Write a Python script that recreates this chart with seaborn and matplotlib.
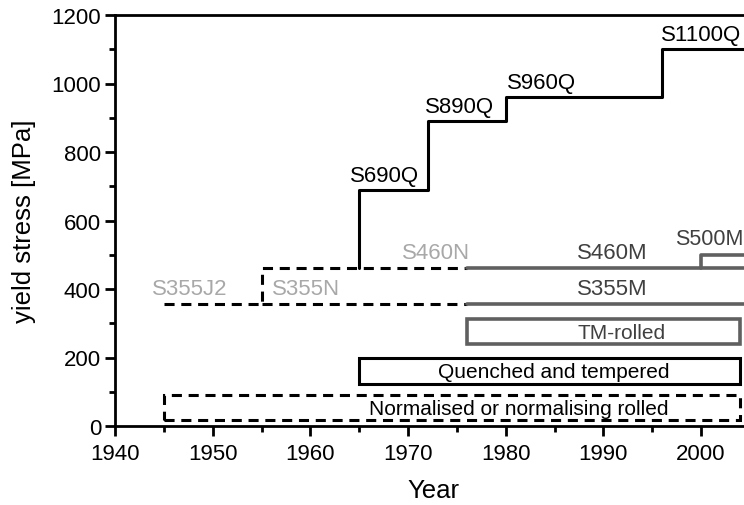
import matplotlib
matplotlib.use("Agg")
import matplotlib.pyplot as plt
from matplotlib.patches import Rectangle
from matplotlib.ticker import MultipleLocator
import seaborn as sns

sns.set_theme(style="white")
plt.rcParams['font.family'] = ['Liberation Sans', 'DejaVu Sans']

# Quenched and tempered grades (step line)
q_years = [1965, 1965, 1972, 1980, 1996, 2006]
q_stress = [460, 690, 890, 960, 1100, 1100]
q_labels = ["S690Q", "S890Q", "S960Q", "S1100Q"]
q_label_years = [1964.1, 1971.7, 1980.1, 1995.9]
q_label_stress = [690, 890, 960, 1100]

# Normalised grades (dashed)
n_years = [1945, 1955, 1955, 1976]
n_stress = [355, 355, 460, 460]
n_years2 = [1955, 1976]
n_stress2 = [355, 355]
n_labels = ["S355J2", "S355N", "S460N"]
n_label_years = [1947.7, 1959.6, 1972.9]
n_label_stress = [355, 355, 460]

# Thermomechanically rolled grades (grey)
m355_years = [1976, 2006]
m355_stress = [355, 355]
m460_years = [1976, 2006]
m460_stress = [460, 460]
m500_years = [2000, 2000, 2006]
m500_stress = [460, 500, 500]
m_labels = ["S355M", "S460M"]
m_label_years = [1990.9, 1990.9]
m_label_stress = [355, 460]

# Process ranges
processes = ["Normalised or normalising rolled", "Quenched and tempered", "TM-rolled"]
proc_start = [1945, 1965, 1976]
proc_end = [2004, 2004, 2004]
proc_low = [17, 123, 239]
proc_high = [90, 199, 312]
proc_text_years = [1981.3, 1984.9, 1991.9]

BLACK = "#000000"
GREY = "#606060"
LABEL_GREY = "#404040"
LIGHT = "#a8a8a8"
DASH = (3.3, 2.2)

fig = plt.figure(figsize=(7.44, 5.06), dpi=100)
ax = fig.add_axes([115 / 744, 1 - 427 / 506, 629 / 744, 411 / 506])

sns.lineplot(x=q_years, y=q_stress, drawstyle="steps-post", estimator=None, sort=False,
             color=BLACK, lw=2.2, ax=ax)
sns.lineplot(x=n_years, y=n_stress, estimator=None, sort=False, color=BLACK, lw=2.2, ax=ax)
ax.lines[-1].set_dashes(DASH)
sns.lineplot(x=n_years2, y=n_stress2, estimator=None, sort=False, color=BLACK, lw=2.2, ax=ax)
ax.lines[-1].set_dashes(DASH)
for xs, ys in [(m355_years, m355_stress), (m460_years, m460_stress), (m500_years, m500_stress)]:
    sns.lineplot(x=xs, y=ys, estimator=None, sort=False, color=GREY, lw=2.6, ax=ax)

styles = [dict(edgecolor=BLACK, linestyle=(0, DASH), lw=2.2),
          dict(edgecolor=BLACK, linestyle="-", lw=2.2),
          dict(edgecolor=GREY, linestyle="-", lw=2.6)]
text_col = [BLACK, BLACK, LABEL_GREY]
for name, x0, x1, y0, y1, tx, st, c in zip(processes, proc_start, proc_end, proc_low,
                                           proc_high, proc_text_years, styles, text_col):
    ax.add_patch(Rectangle((x0, y0), x1 - x0, y1 - y0, facecolor="none", **st))
    ax.text(tx, (y0 + y1) / 2 - 3, name, ha="center", va="center", fontsize=15, color=c)

for lab, x, y in zip(q_labels, q_label_years, q_label_stress):
    ax.text(x, y + 12, lab, ha="left", va="bottom", fontsize=16, color=BLACK)
for lab, x, y in zip(n_labels, n_label_years, n_label_stress):
    ax.text(x, y + 17, lab, ha="center", va="bottom", fontsize=16, color=LIGHT)
for lab, x, y in zip(m_labels, m_label_years, m_label_stress):
    ax.text(x, y + 17, lab, ha="center", va="bottom", fontsize=16, color=LABEL_GREY)
ax.text(0.999, 500 + 17, "S500M", transform=ax.get_yaxis_transform(),
        ha="right", va="bottom", fontsize=15.5, color=LABEL_GREY)

ax.set_xlim(1940, 2004.4)
ax.set_ylim(0, 1200)
ax.xaxis.set_major_locator(MultipleLocator(10))
ax.xaxis.set_minor_locator(MultipleLocator(5))
ax.yaxis.set_major_locator(MultipleLocator(200))
ax.yaxis.set_minor_locator(MultipleLocator(100))
ax.tick_params(which="major", direction="out", length=7, width=2, labelsize=16,
               bottom=True, left=True, color=BLACK, labelcolor=BLACK, pad=3)
ax.tick_params(axis="x", which="major", pad=5)
ax.tick_params(which="minor", direction="out", length=4, width=2,
               bottom=True, left=True, color=BLACK)
for side in ["left", "bottom", "top"]:
    ax.spines[side].set_linewidth(2)
    ax.spines[side].set_color(BLACK)
ax.spines["right"].set_visible(False)

ax.set_xlabel("Year", fontsize=18.5, color=BLACK)
ax.set_ylabel("yield stress [MPa]", fontsize=18.5, color=BLACK)
ax.xaxis.label.set_va("center")
ax.yaxis.label.set_va("center")
ax.xaxis.set_label_coords((433 - 115) / 629, (427 - 491) / 411)
ax.yaxis.set_label_coords((24 - 115) / 629, 0.5)

fig.savefig("out.png", dpi=100)
